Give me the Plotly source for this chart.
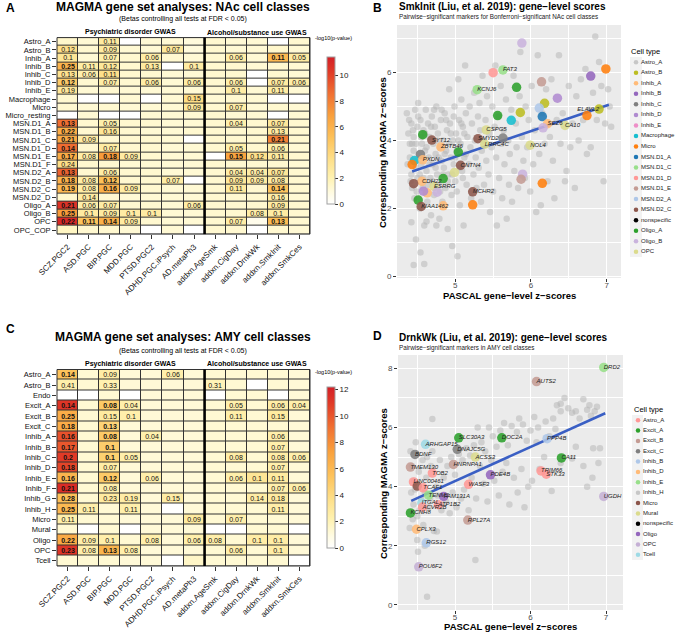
import math
import plotly.graph_objects as go

W, H = 675, 632
FONT = "Liberation Sans, Arial, sans-serif"


def px(x):
    return x / W


def py(y):
    return 1 - y / H


# ---------------- heatmap data ----------------
gwas = ["SCZ.PGC2", "ASD.PGC", "BIP.PGC", "MDD.PGC", "PTSD.PGC2", "ADHD.PGC.iPsych",
        "AD.metaPh3", "addxn.AgeSmk", "addxn.CigDay", "addxn.DrnkWk", "addxn.SmkInit", "addxn.SmkCes"]

nac_rows = ["Astro_A", "Astro_B", "Inhib_A", "Inhib_B", "Inhib_C", "Inhib_D", "Inhib_E",
            "Macrophage", "Micro", "Micro_resting", "MSN.D1_A", "MSN.D1_B", "MSN.D1_C",
            "MSN.D1_D", "MSN.D1_E", "MSN.D1_F", "MSN.D2_A", "MSN.D2_B", "MSN.D2_C",
            "MSN.D2_D", "Oligo_A", "Oligo_B", "OPC", "OPC_COP"]

# -log10(p-value)
nac_logp = [
    [1.4, 1.2, 2.6, 0, 1.2, 1.2, 1.0, 1.3, 1.2, 1.2, 0, 1.3],
    [3.4, 1.3, 2.6, 1.2, 1.2, 2.8, 1.0, 1.3, 1.2, 1.2, 1.4, 1.2],
    [3.0, 1.2, 2.3, 1.3, 2.4, 1.3, 1.2, 1.3, 2.4, 1.2, 5.6, 2.6],
    [5.8, 2.4, 2.8, 1.3, 2.6, 0, 2.5, 1.3, 1.3, 1.2, 1.3, 1.2],
    [3.2, 2.2, 3.4, 1.3, 1.3, 1.2, 1.2, 1.3, 1.3, 0, 1.3, 1.2],
    [4.6, 1.3, 2.4, 1.3, 2.4, 1.2, 2.4, 1.3, 2.3, 0, 2.6, 2.4],
    [2.9, 1.2, 1.3, 1.2, 1.2, 1.2, 1.2, 1.3, 2.4, 1.2, 2.5, 1.2],
    [1.3, 0, 0, 1.2, 0, 1.2, 3.6, 1.2, 1.3, 1.2, 0, 0],
    [1.3, 1.2, 1.3, 1.2, 1.2, 1.2, 2.8, 1.3, 2.4, 1.2, 1.3, 1.2],
    [0, 1.2, 0, 0, 1.2, 1.2, 1.2, 1.3, 1.2, 1.2, 0, 1.2],
    [8.6, 1.3, 2.2, 1.3, 1.3, 1.2, 1.2, 1.3, 2.2, 1.3, 2.8, 1.3],
    [6.2, 1.3, 3.0, 1.3, 1.2, 1.2, 1.3, 1.3, 1.3, 1.3, 2.6, 1.3],
    [6.3, 2.5, 1.3, 1.3, 1.3, 1.2, 0, 1.3, 1.3, 1.3, 8.0, 1.3],
    [8.7, 1.3, 2.5, 1.3, 1.3, 1.2, 1.2, 1.3, 2.3, 1.3, 2.3, 1.2],
    [6.2, 2.4, 7.0, 2.5, 1.3, 1.2, 1.2, 0, 6.6, 3.4, 2.6, 1.3],
    [3.5, 1.3, 1.3, 1.2, 1.2, 1.2, 1.2, 1.3, 1.3, 1.3, 1.3, 1.2],
    [9.0, 1.3, 2.4, 1.3, 1.3, 1.2, 1.2, 1.3, 2.4, 2.4, 2.9, 1.3],
    [6.0, 2.4, 5.2, 1.3, 1.3, 2.4, 0, 1.3, 2.9, 2.6, 2.6, 1.3],
    [5.6, 2.4, 6.0, 2.5, 1.3, 1.2, 1.2, 1.3, 2.7, 1.3, 5.0, 1.3],
    [1.4, 2.6, 1.3, 1.2, 1.2, 1.2, 1.2, 1.3, 1.3, 1.3, 2.4, 1.2],
    [10.6, 2.3, 2.4, 1.3, 1.3, 1.2, 2.4, 1.3, 1.3, 1.3, 2.6, 1.3],
    [7.0, 2.6, 2.6, 2.5, 2.5, 1.2, 1.2, 1.3, 1.3, 2.4, 2.5, 1.3],
    [11.0, 5.0, 6.0, 2.6, 1.3, 1.2, 1.2, 1.3, 2.4, 0.6, 5.4, 1.3],
    [1.6, 1.3, 1.3, 1.2, 0, 1.2, 0, 1.3, 1.3, 0, 1.3, 1.2],
]

N = None
nac_beta = [
    [N, N, 0.11, N, N, N, N, N, N, N, N, N],
    [0.12, N, 0.09, N, N, 0.07, N, N, N, N, N, N],
    [0.1, N, 0.07, N, 0.06, N, N, N, 0.06, N, 0.11, 0.05],
    [0.25, 0.11, 0.12, N, 0.13, N, 0.1, N, N, N, N, N],
    [0.13, 0.06, 0.11, N, N, N, N, N, N, N, N, N],
    [0.12, N, 0.07, N, 0.06, N, 0.06, N, 0.06, N, 0.07, 0.06],
    [0.19, N, N, N, N, N, N, N, 0.1, N, 0.11, N],
    [N, N, N, N, N, N, 0.15, N, N, N, N, N],
    [N, N, N, N, N, N, 0.09, N, 0.07, N, N, N],
    [N, N, N, N, N, N, N, N, N, N, N, N],
    [0.13, N, 0.05, N, N, N, N, N, 0.04, N, 0.07, N],
    [0.22, N, 0.16, N, N, N, N, N, N, N, 0.13, N],
    [0.21, 0.09, N, N, N, N, N, N, N, N, 0.21, N],
    [0.14, N, 0.07, N, N, N, N, N, 0.05, N, 0.06, N],
    [0.17, 0.08, 0.18, 0.09, N, N, N, N, 0.15, 0.12, 0.11, N],
    [0.24, N, N, N, N, N, N, N, N, N, N, N],
    [0.13, N, 0.06, N, N, N, N, N, 0.04, 0.04, 0.07, N],
    [0.18, 0.08, 0.12, N, N, 0.07, N, N, 0.09, 0.09, 0.08, N],
    [0.19, 0.08, 0.16, 0.09, N, N, N, N, 0.11, N, 0.14, N],
    [N, 0.14, N, N, N, N, N, N, N, N, 0.16, N],
    [0.21, 0.06, 0.07, N, N, N, 0.06, N, N, N, 0.09, N],
    [0.25, 0.1, 0.09, 0.1, 0.1, N, N, N, N, 0.08, 0.1, N],
    [0.22, 0.11, 0.14, 0.09, N, N, N, N, 0.07, N, 0.13, N],
    [N, N, N, N, N, N, N, N, N, N, N, N],
]

amy_rows = ["Astro_A", "Astro_B", "Endo", "Excit_A", "Excit_B", "Excit_C", "Inhib_A",
            "Inhib_B", "Inhib_C", "Inhib_D", "Inhib_E", "Inhib_F", "Inhib_G", "Inhib_H",
            "Micro", "Mural", "Oligo", "OPC", "Tcell"]

amy_logp = [
    [5.4, 1.3, 2.6, 1.2, 1.2, 2.4, 1.2, 1.3, 1.3, 1.3, 1.3, 1.2],
    [2.4, 1.3, 2.2, 1.2, 1.2, 1.2, 1.2, 2.0, 1.3, 0, 1.3, 1.2],
    [0, 0, 1.3, 0, 1.2, 1.2, 1.2, 0, 1.3, 1.3, 0, 1.2],
    [11.2, 1.3, 5.0, 2.4, 1.2, 1.2, 1.2, 1.3, 2.4, 1.3, 2.6, 2.4],
    [6.6, 1.3, 2.8, 2.4, 1.2, 1.2, 1.2, 1.3, 2.5, 1.3, 2.8, 1.2],
    [6.6, 1.3, 4.4, 1.2, 1.2, 1.2, 1.2, 1.3, 1.3, 1.3, 1.3, 1.2],
    [10.2, 1.3, 5.0, 1.2, 2.3, 1.2, 1.2, 1.3, 1.3, 1.3, 2.4, 1.2],
    [10.0, 1.3, 4.8, 1.2, 1.2, 1.2, 1.2, 1.3, 1.3, 1.3, 2.4, 1.2],
    [11.0, 1.3, 4.6, 2.4, 1.2, 1.2, 1.2, 1.3, 2.6, 1.3, 2.6, 2.4],
    [10.6, 1.3, 2.6, 1.2, 1.2, 1.2, 1.2, 1.3, 1.3, 1.3, 2.4, 1.2],
    [6.2, 1.3, 5.0, 1.2, 2.4, 1.2, 1.2, 1.3, 2.4, 3.2, 2.8, 1.2],
    [11.6, 1.3, 2.4, 1.2, 1.2, 1.2, 1.2, 1.3, 1.3, 1.3, 2.4, 2.4],
    [5.6, 1.3, 2.8, 2.6, 1.2, 2.6, 1.2, 1.3, 1.3, 2.6, 2.8, 1.2],
    [6.0, 2.4, 1.3, 2.4, 1.2, 0, 1.2, 1.3, 1.3, 1.3, 2.5, 1.2],
    [2.4, 1.3, 1.3, 1.2, 1.2, 1.2, 2.8, 1.3, 2.4, 1.3, 1.3, 1.2],
    [1.3, 0, 1.3, 0, 1.2, 1.2, 1.2, 0, 0, 1.3, 1.3, 0],
    [6.8, 2.4, 2.4, 1.3, 2.4, 1.2, 2.4, 2.4, 1.3, 2.6, 2.6, 1.2],
    [11.2, 2.4, 6.2, 2.4, 1.2, 1.2, 1.2, 1.3, 2.4, 1.3, 2.6, 1.2],
    [1.3, 1.3, 1.3, 1.2, 1.2, 0, 1.6, 1.3, 1.3, 1.3, 1.3, 0],
]

amy_beta = [
    [0.14, N, 0.09, N, N, 0.06, N, N, N, N, N, N],
    [0.41, N, 0.33, N, N, N, N, 0.31, N, N, N, N],
    [N, N, N, N, N, N, N, N, N, N, N, N],
    [0.14, N, 0.08, 0.04, N, N, N, N, 0.05, N, 0.06, 0.04],
    [0.25, N, 0.15, 0.1, N, N, N, N, 0.11, N, 0.15, N],
    [0.18, N, 0.13, N, N, N, N, N, N, N, N, N],
    [0.16, N, 0.08, N, 0.04, N, N, N, N, N, 0.06, N],
    [0.17, N, 0.1, N, N, N, N, N, N, N, 0.07, N],
    [0.2, N, 0.1, 0.05, N, N, N, N, 0.08, N, 0.08, 0.06],
    [0.18, N, 0.07, N, N, N, N, N, N, N, 0.07, N],
    [0.16, N, 0.12, N, 0.06, N, N, N, 0.06, 0.1, 0.11, N],
    [0.21, N, 0.08, N, N, N, N, N, N, N, 0.07, 0.06],
    [0.28, N, 0.23, 0.19, N, 0.15, N, N, N, 0.14, 0.18, N],
    [0.25, 0.11, N, 0.11, N, N, N, N, N, N, 0.11, N],
    [0.11, N, N, N, N, N, 0.09, N, 0.07, N, N, N],
    [N, N, N, N, N, N, N, N, N, N, N, N],
    [0.22, 0.09, 0.1, N, 0.08, N, 0.06, 0.08, N, 0.1, 0.1, N],
    [0.23, 0.08, 0.13, 0.08, N, N, N, N, 0.06, N, 0.1, N],
    [N, N, N, N, N, N, N, N, N, N, N, N],
]

# ---------------- scatter data ----------------
# panel B (SmkInit, NAc): background genes
gray_b_x = [4.36, 4.38, 4.40, 4.40, 4.42, 4.42, 4.43, 4.45, 4.45, 4.46, 4.47, 4.48, 4.48, 4.50,
            4.50, 4.51, 4.52, 4.53, 4.54, 4.55, 4.56, 4.57, 4.58, 4.59, 4.60, 4.61, 4.62, 4.63,
            4.64, 4.65, 4.66, 4.67, 4.68, 4.69, 4.70, 4.71, 4.72, 4.73, 4.74, 4.75, 4.76, 4.77,
            4.78, 4.79, 4.80, 4.81, 4.82, 4.83, 4.84, 4.85, 4.86, 4.87, 4.88, 4.89, 4.90, 4.91,
            4.92, 4.93, 4.94, 4.95, 4.96, 4.97, 4.98, 4.99, 5.00, 5.01, 5.02, 5.03, 5.04, 5.05,
            5.06, 5.07, 5.08, 5.09, 5.10, 5.11, 5.12, 5.13, 5.14, 5.15, 5.16, 5.18, 5.19, 5.20,
            5.21, 5.22, 5.24, 5.25, 5.26, 5.27, 5.28, 5.30, 5.31, 5.32, 5.33, 5.34, 5.35, 5.36,
            5.37, 5.38, 5.40, 5.41, 5.42, 5.44, 5.45, 5.46, 5.48, 5.49, 5.50, 5.52, 5.53, 5.54,
            5.55, 5.57, 5.58, 5.60, 5.61, 5.62, 5.64, 5.65, 5.67, 5.68, 5.70, 5.71, 5.72, 5.74,
            5.75, 5.77, 5.78, 5.80, 5.81, 5.83, 5.85, 5.86, 5.88, 5.90, 5.92, 5.93, 5.95, 5.97,
            5.99, 6.01, 6.03, 6.05, 6.07, 6.09, 6.11, 6.13, 6.15, 6.18, 6.20, 6.22, 6.25, 6.27,
            6.29, 6.31, 6.34, 6.37, 6.39, 6.42, 6.45, 6.47, 6.50, 6.52, 6.55, 6.58, 6.60, 6.63,
            6.66, 6.69, 6.72, 6.74, 6.77, 6.79, 6.82, 6.85, 6.87, 6.90, 6.93, 6.96, 6.98, 7.02,
            7.04, 7.06, 4.45, 4.59, 4.54, 4.48, 4.75, 4.62, 4.42,
            4.37, 4.39, 4.41, 4.43, 4.44, 4.46, 4.49, 4.51, 4.53, 4.55, 4.57, 4.58, 4.60, 4.62,
            4.64, 4.66, 4.68, 4.70, 4.72, 4.74, 4.76, 4.78, 4.80, 4.82, 4.84, 4.86, 4.88, 4.90,
            4.92, 4.94, 4.96, 4.98, 5.00, 5.02, 5.04, 5.06, 5.08, 5.10, 5.12, 5.14]
gray_b_y = [4.8, 4.2, 3.9, 3.5, 4.5, 3.0, 2.6, 3.7, 4.1, 2.3, 4.9, 3.2, 3.9, 4.4,
            2.9, 5.1, 3.6, 2.0, 4.6, 3.3, 3.9, 2.6, 4.3, 1.5, 3.7, 4.9, 3.1, 2.2,
            4.5, 3.5, 4.1, 2.9, 1.8, 4.7, 3.3, 3.9, 2.4, 4.4, 3.6, 5.0, 3.0, 4.2,
            2.7, 1.7, 3.8, 4.6, 3.4, 2.2, 4.0, 3.2, 4.8, 2.6, 3.7, 4.3, 1.4, 3.0,
            5.5, 4.5, 3.5, 2.4, 0.9, 4.0, 3.3, 5.0, 2.8, 4.2, 3.7, 0.6, 5.8, 4.6,
            2.1, 3.9, 5.2, 3.1, 4.4, 1.5, 3.5, 6.2, 4.8, 2.7, 4.1, 3.3, 5.0, 3.8,
            2.3, 4.5, 3.0, 5.4, 4.0, 3.5, 2.6, 4.7, 3.2, 5.1, 4.3, 2.2, 3.7, 5.9,
            4.0, 2.7, 4.6, 3.4, 5.3, 3.0, 4.2, 1.9, 3.8, 5.0, 2.5, 4.4, 6.2, 3.5,
            1.5, 4.7, 2.9, 5.6, 3.9, 2.3, 4.3, 3.3, 5.2, 1.7, 4.0, 2.7, 3.6, 4.9,
            2.2, 5.9, 3.1, 4.5, 3.8, 2.6, 5.3, 6.6, 4.1, 3.4, 2.9, 5.0, 3.8, 4.6,
            2.5, 5.6, 3.3, 4.3, 1.9, 6.5, 3.6, 2.1, 4.8, 3.9, 5.5, 2.8, 4.1, 5.8,
            3.4, 2.3, 4.6, 6.5, 3.9, 4.8, 2.8, 3.1, 5.6, 3.8, 4.5, 2.6, 5.3, 4.0,
            5.8, 4.6, 6.1, 3.6, 4.9, 3.8, 5.4, 7.05, 4.6, 6.3, 5.6, 2.8, 4.5, 5.5,
            5.0, 4.4, 0.34, 0.37, 0.71, 1.09, 1.50, 1.62, 1.6,
            3.3, 4.6, 2.8, 3.9, 4.3, 3.4, 2.5, 4.7, 3.0, 4.1, 3.5, 2.9, 4.2, 3.8,
            2.7, 3.3, 4.4, 2.8, 4.9, 3.2, 4.0, 3.5, 2.5, 4.9, 3.0, 3.6, 4.6, 2.8,
            3.9, 4.2, 3.0, 4.7, 3.5, 2.5, 4.0, 3.2, 4.5, 2.9, 4.2, 3.6]

# panel B highlighted markers: cell type, PASCAL z, MAGMA z, gene label
b_type = ["Oligo_B", "MSN.D1_D", "MSN.D1_C", "Micro", "Inhib_B", "MSN.D1_E", "Oligo_A",
          "MSN.D1_C", "Inhib_D", "Astro_B", "MSN.D2_A", "Astro_B", "Astro_B", "Oligo_A",
          "MSN.D1_A", "Micro", "Macrophage", "Inhib_A", "Oligo_B", "OPC", "OPC", "Oligo_A",
          "MSN.D2_C", "MSN.D2_C", "Inhib_C", "Inhib_A", "OPC", "OPC", "Oligo_A", "Inhib_C",
          "Macrophage", "Inhib_A", "Micro", "MSN.D2_C", "OPC", "Oligo_B", "Oligo_A",
          "MSN.D1_E", "Inhib_A", "MSN.D2_C", "OPC", "Inhib_A", "Inhib_D", "Oligo_B",
          "MSN.D2_C", "Micro", "Oligo_A", "MSN.D2_C", "Inhib_A", "Micro"]
b_x = [5.88, 5.50, 5.63, 6.99, 6.79, 6.14, 5.81, 5.29, 6.35, 6.18, 6.11, 6.90, 5.86, 5.56,
       6.15, 6.74, 5.74, 6.22, 6.16, 6.45, 5.41, 4.57, 4.69, 5.30, 5.63, 4.81, 5.99, 5.39,
       5.04, 4.54, 4.46, 4.57, 4.43, 5.07, 4.99, 5.89, 4.84, 5.87, 4.56, 4.45, 4.72, 4.63,
       4.58, 4.76, 5.23, 6.15, 4.51, 4.55, 4.84, 5.23]
b_y = [6.86, 5.99, 6.07, 6.10, 5.89, 5.72, 5.56, 5.49, 5.24, 5.09, 4.95, 4.92, 4.82, 4.73,
       4.70, 4.73, 4.59, 4.49, 4.37, 4.44, 4.31, 4.17, 4.01, 4.05, 4.07, 3.81, 3.86, 3.89,
       3.66, 3.59, 3.41, 3.43, 3.29, 3.27, 3.06, 3.01, 2.88, 2.86, 2.80, 2.73, 2.65, 2.46,
       2.51, 2.48, 2.49, 2.74, 2.25, 2.06, 2.08, 2.11]
b_gene = ["", "", "FAT3", "", "", "", "", "KCNJ6", "", "", "", "ELAVL2", "", "", "", "", "",
          "SEZ6", "", "CA10", "CSPG5", "", "SYT12", "SMYD2", "", "ZBTB46", "NOL4", "LRRC4C",
          "", "", "", "PXDN", "", "CNTN4", "", "", "", "", "CDH22", "", "ESRRG", "", "", "",
          "MCHR2", "", "", "KIAA1462", "", ""]
b_fit_x = [4.43, 7.03]
b_fit_y = [3.09, 5.05]

b_legend = ["Astro_A", "Astro_B", "Inhib_A", "Inhib_B", "Inhib_C", "Inhib_D", "Inhib_E",
            "Macrophage", "Micro", "MSN.D1_A", "MSN.D1_C", "MSN.D1_D", "MSN.D1_E", "MSN.D2_A",
            "MSN.D2_C", "nonspecific", "Oligo_A", "Oligo_B", "OPC"]

# panel D (DrnkWk, AMY): background genes
gray_d_x = [6.35, 6.40, 6.45, 6.50, 6.55, 6.60, 6.65, 6.70, 6.75, 6.78, 6.80, 6.85, 6.88, 6.92,
            6.60, 6.40, 6.30, 6.20, 6.33, 6.25, 6.10, 6.05, 6.00, 6.08, 5.95, 5.90, 5.85, 5.82,
            5.75, 5.70, 5.65, 5.60, 5.55, 5.50, 5.45, 5.40, 5.35, 5.30, 5.25, 5.20, 5.15, 5.10,
            5.05, 5.00, 4.95, 4.90, 4.85, 4.80, 4.75, 4.70, 4.68, 4.65, 4.62, 4.60, 4.57, 4.55,
            4.52, 4.50, 4.48, 4.46, 4.45, 4.44, 4.43, 4.42, 4.41, 4.40, 4.47, 4.53, 4.58, 4.63,
            4.67, 4.72, 4.77, 4.82, 4.88, 4.93, 4.97, 5.02, 5.08, 5.12, 5.18, 5.22, 5.28, 5.33,
            5.38, 5.43, 5.48, 5.52, 5.58, 5.63, 5.68, 5.72, 5.78, 5.83, 5.88, 5.92, 5.97, 6.02,
            6.12, 6.18, 6.28, 6.40, 6.55, 6.70, 6.75, 6.82, 6.90, 6.83, 4.63, 4.51, 5.27, 4.70,
            4.76, 4.50, 4.60]
gray_d_y = [6.75, 6.80, 7.00, 6.65, 6.50, 6.55, 6.30, 6.95, 6.60, 6.75, 6.40, 6.55, 6.70, 5.30,
            5.35, 6.55, 6.30, 6.20, 5.95, 5.70, 6.00, 6.35, 5.90, 5.50, 5.55, 6.10, 6.30, 5.85,
            6.05, 5.40, 6.15, 5.90, 5.35, 5.70, 6.00, 5.20, 5.50, 6.00, 5.40, 5.05, 5.30, 4.90,
            5.10, 4.40, 5.00, 4.70, 4.30, 4.90, 4.00, 5.20, 4.70, 3.30, 4.30, 3.80, 4.90, 3.60,
            4.50, 3.00, 5.50, 4.20, 3.40, 2.90, 4.70, 3.80, 5.20, 2.60, 3.90, 3.20, 2.70, 5.00,
            3.60, 2.50, 3.70, 3.20, 3.50, 3.10, 3.80, 3.30, 3.60, 3.90, 3.20, 4.30, 3.60, 4.70,
            4.10, 3.50, 4.90, 4.20, 3.70, 4.50, 4.80, 3.40, 4.30, 3.80, 4.60, 3.30, 4.00, 4.20,
            4.60, 5.00, 3.85, 4.80, 4.95, 4.70, 4.00, 4.30, 4.80, 5.30, 0.28, 1.80, 1.52, 6.29,
            2.48, 2.20, 2.00]

d_type = ["Inhib_E", "Excit_B", "Inhib_B", "Excit_A", "Excit_A", "Tcell", "Excit_C", "Excit_C",
          "Mural", "Excit_A", "Excit_B", "Excit_B", "Astro_A", "Astro_A", "Astro_A", "Oligo",
          "Astro_A", "Astro_A", "Micro", "Astro_A", "Inhib_E", "Oligo", "OPC", "Tcell",
          "Astro_A", "Astro_A", "Excit_A", "Excit_B", "Inhib_D", "Inhib_B", "OPC"]
d_x = [6.97, 6.08, 6.22, 5.05, 5.62, 4.61, 5.03, 4.47, 5.27, 6.41, 4.98, 4.41, 4.70, 6.14,
       6.21, 5.47, 4.45, 5.18, 4.50, 4.58, 4.65, 4.85, 6.97, 4.56, 4.78, 4.57, 4.41, 5.17,
       4.49, 4.62, 4.52]
d_y = [8.03, 7.55, 5.62, 5.65, 5.65, 5.43, 5.26, 5.09, 5.00, 4.97, 4.75, 4.66, 4.46, 4.53,
       4.42, 4.40, 4.16, 4.08, 4.02, 3.96, 3.71, 3.67, 3.67, 3.45, 3.39, 3.31, 3.11, 2.87,
       2.56, 2.10, 1.29]
d_gene = ["DRD2", "AUTS2", "PPP4B", "SLC30A3", "DOC2A", "ARHGAP15", "DNAJC5G", "BDNF", "ACSS3",
          "CA11", "HNRNPA1", "TMEM130", "TOB2", "TRIM66", "STK33", "PDE4B", "LINC00461",
          "WASF3", "", "TCAF1", "TENM2", "FAM131A", "UGDH", "ITGAL", "ATP1B2", "ACVR2B",
          "KCNH8", "RPL27A", "CPLX3", "RGS12", "POU6F2"]
d_fit_x = [4.42, 6.99]
d_fit_y = [3.52, 6.48]

d_legend = ["Astro_A", "Excit_A", "Excit_B", "Excit_C", "Inhib_B", "Inhib_D", "Inhib_E",
            "Inhib_H", "Micro", "Mural", "nonspecific", "Oligo", "OPC", "Tcell"]

# ---------------- styles ----------------
b_colors = {"Astro_A": "#C7C7C7", "Astro_B": "#BCBD22", "Inhib_A": "#FFBB78",
            "Inhib_B": "#9467BD", "Inhib_C": "#7F7F7F", "Inhib_D": "#B08BD0",
            "Inhib_E": "#EE8FC8", "Macrophage": "#17BECF", "Micro": "#FF7F0E",
            "MSN.D1_A": "#1F77B4", "MSN.D1_C": "#98DF8A", "MSN.D1_D": "#FF9896",
            "MSN.D1_E": "#C49C94", "MSN.D2_A": "#AEC7E8", "MSN.D2_C": "#8C564B",
            "nonspecific": "#000000", "Oligo_A": "#2CA02C", "Oligo_B": "#C9B3DD",
            "OPC": "#DBDB8D"}
d_colors = {"Astro_A": "#FF9896", "Excit_A": "#2CA02C", "Excit_B": "#C49C94",
            "Excit_C": "#7F7F7F", "Inhib_B": "#AEC7E8", "Inhib_D": "#FFBB78",
            "Inhib_E": "#98DF8A", "Inhib_H": "#C7C7C7", "Micro": "#8C564B",
            "Mural": "#DBDB8D", "nonspecific": "#000000", "Oligo": "#9467BD",
            "OPC": "#C5B0D5", "Tcell": "#9EDAE5"}
left_labels = {"ELAVL2"}

heat_scale = [[0, "#FFFFFF"], [0.08, "#FFFBE0"], [0.18, "#FFF2B0"], [0.3, "#FEE08A"],
              [0.45, "#FDC25A"], [0.6, "#F9A03C"], [0.75, "#F07032"], [0.9, "#E03A27"],
              [1.0, "#D41F26"]]

fig = go.Figure()


def cell_text(logp, beta, thr):
    out = []
    for lr, br in zip(logp, beta):
        row = []
        for v, b in zip(lr, br):
            if b is None:
                row.append("")
            elif v >= thr:
                row.append(f"<b>{b}</b>")
            else:
                row.append(f"{b}")
        out.append(row)
    return out


def add_heat(logp, beta, rows, xa, ya, zmax, bar_top, bar_bot, dticks):
    # bold = Bonferroni-significant
    thr = -math.log10(0.05 / (len(rows) * len(gwas)))
    fig.add_trace(go.Heatmap(
        z=logp, x=gwas, y=rows, xaxis=xa, yaxis=ya,
        colorscale=heat_scale, zmin=0, zmax=zmax, xgap=1, ygap=1,
        text=cell_text(logp, beta, thr), texttemplate="%{text}",
        textfont=dict(size=7, color="#111111", family=FONT),
        hoverinfo="skip",
        colorbar=dict(x=px(316.5), xanchor="left", y=py((bar_top + bar_bot) / 2),
                      yanchor="middle", lenmode="pixels", len=bar_bot - bar_top,
                      thickness=8, outlinewidth=1, outlinecolor="#A0A0A0",
                      tickvals=dticks, ticks="outside", ticklen=3, tickcolor="#333",
                      tickfont=dict(size=8, color="#222", family=FONT)),
    ))


add_heat(nac_logp, nac_beta, nac_rows, "x", "y", 11.42, 47, 214, [0, 2, 4, 6, 8, 10])
add_heat(amy_logp, amy_beta, amy_rows, "x3", "y3", 12.2, 377, 558, [0, 2, 4, 6, 8, 10, 12])


def add_scatter(gx, gy, typ, xs, ys, genes, fx, fy, colors, xa, ya):
    fig.add_trace(go.Scatter(x=gx, y=gy, mode="markers", xaxis=xa, yaxis=ya,
                             marker=dict(size=6.5, color="#B4B4B4", opacity=0.5),
                             hoverinfo="skip"))
    fig.add_trace(go.Scatter(x=fx, y=fy, mode="lines", xaxis=xa, yaxis=ya,
                             line=dict(color="#3A5FC4", width=2.6), hoverinfo="skip"))
    fig.add_trace(go.Scatter(x=xs, y=ys, mode="markers", xaxis=xa, yaxis=ya,
                             marker=dict(size=9.5, color=[colors[t] for t in typ], opacity=0.88),
                             hovertext=typ))
    lx = [x for x, g in zip(xs, genes) if g]
    ly = [y for y, g in zip(ys, genes) if g]
    lt = [f"<i>{g}</i>" for g in genes if g]
    lp = ["middle left" if g in left_labels else "middle right" for g in genes if g]
    fig.add_trace(go.Scatter(x=lx, y=ly, mode="text", text=lt, textposition=lp,
                             xaxis=xa, yaxis=ya, cliponaxis=False,
                             textfont=dict(size=6, color="#222", family=FONT),
                             hoverinfo="skip"))


add_scatter(gray_b_x, gray_b_y, b_type, b_x, b_y, b_gene, b_fit_x, b_fit_y, b_colors, "x2", "y2")
add_scatter(gray_d_x, gray_d_y, d_type, d_x, d_y, d_gene, d_fit_x, d_fit_y, d_colors, "x4", "y4")


def add_legend(types, colors, xa, ya):
    fig.add_trace(go.Scatter(x=[6] * len(types), y=types, mode="markers", xaxis=xa, yaxis=ya,
                             marker=dict(size=4.5, color=[colors[t] for t in types]),
                             hoverinfo="skip"))
    fig.add_trace(go.Scatter(x=[11] * len(types), y=types, mode="text", text=types,
                             textposition="middle right", xaxis=xa, yaxis=ya, cliponaxis=False,
                             textfont=dict(size=6, color="#1a1a1a", family=FONT),
                             hoverinfo="skip"))


add_legend(b_legend, b_colors, "x5", "y5")
add_legend(d_legend, d_colors, "x6", "y6")

# ---------------- axes ----------------
heat_x = dict(type="category", tickangle=-45, ticks="outside", ticklen=4, tickcolor="#333",
              tickmode="array", tickvals=gwas, automargin=False,
              tickfont=dict(size=8, color="#111", family=FONT), showgrid=False,
              zeroline=False, showline=False, fixedrange=True)
heat_y = dict(type="category", autorange="reversed", ticks="outside", ticklen=4,
              tickcolor="#333", tickfont=dict(size=7.5, color="#111", family=FONT),
              automargin=False, showgrid=False, zeroline=False, showline=False, fixedrange=True)

sc_common = dict(ticks="outside", ticklen=3, tickcolor="#333", showline=False, zeroline=False,
                 showgrid=True, gridcolor="white", gridwidth=1.3, automargin=False,
                 tickfont=dict(size=8, color="#4D4D4D", family=FONT))


def minor(vals):
    return dict(tickvals=vals, showgrid=True, gridcolor="white", gridwidth=0.6, ticks="")


fig.update_layout(
    xaxis=dict(heat_x, domain=[px(57), px(310)], anchor="y"),
    yaxis=dict(heat_y, domain=[py(234.1), py(37.6)], anchor="x",
               tickmode="array", tickvals=nac_rows),
    xaxis3=dict(heat_x, domain=[px(57), px(310)], anchor="y3"),
    yaxis3=dict(heat_y, domain=[py(566), py(369.5)], anchor="x3",
                tickmode="array", tickvals=amy_rows),
    xaxis2=dict(sc_common, domain=[px(397), px(621)], anchor="y2", range=[4.23, 7.19],
                tickvals=[5, 6, 7], minor=minor([4.5, 5.5, 6.5]), ticklabelstandoff=-4),
    yaxis2=dict(sc_common, domain=[py(278), py(25)], anchor="x2", range=[-0.04, 7.39],
                tickvals=[0, 2, 4, 6], minor=minor([1, 3, 5, 7])),
    xaxis4=dict(sc_common, domain=[px(398), px(623)], anchor="y4", range=[4.245, 7.225],
                tickvals=[5, 6, 7], minor=minor([4.5, 5.5, 6.5]), ticklabelstandoff=-4),
    yaxis4=dict(sc_common, domain=[py(610), py(355)], anchor="x4", range=[-0.17, 8.45],
                tickvals=[0, 2, 4, 6, 8], minor=minor([1, 3, 5, 7])),
    xaxis5=dict(domain=[px(630), 1], range=[0, 45], visible=False, anchor="y5",
                automargin=False),
    yaxis5=dict(domain=[py(257), py(57)], type="category", range=[len(b_legend) - 0.5, -0.5],
                visible=False, anchor="x5", automargin=False),
    xaxis6=dict(domain=[px(632), 1], range=[0, 43], visible=False, anchor="y6",
                automargin=False),
    yaxis6=dict(domain=[py(560), py(415)], type="category", range=[len(d_legend) - 0.5, -0.5],
                visible=False, anchor="x6", automargin=False),
)

shapes = []
for xa, ya in [("x", "y"), ("x3", "y3")]:
    shapes.append(dict(type="rect", xref=f"{xa} domain", yref=f"{ya} domain", x0=0, x1=1,
                       y0=0, y1=1, fillcolor="#333333", line=dict(width=0), layer="below"))
    shapes.append(dict(type="rect", xref=f"{xa} domain", yref=f"{ya} domain", x0=0, x1=1,
                       y0=0, y1=1, line=dict(width=1, color="#333333"), layer="above"))
    shapes.append(dict(type="line", xref=xa, yref=f"{ya} domain", x0=6.5, x1=6.5, y0=0, y1=1,
                       line=dict(width=2.6, color="black"), layer="above"))
for xa, ya in [("x2", "y2"), ("x4", "y4")]:
    shapes.append(dict(type="rect", xref=f"{xa} domain", yref=f"{ya} domain", x0=0, x1=1,
                       y0=0, y1=1, fillcolor="#EBEBEB", line=dict(width=0), layer="below"))
shapes.append(dict(type="rect", xref="x5", yref="y5 domain", x0=0, x1=12, y0=0, y1=1,
                   fillcolor="#F2F2F2", line=dict(width=0), layer="below"))
shapes.append(dict(type="rect", xref="x6", yref="y6 domain", x0=0, x1=11, y0=0, y1=1,
                   fillcolor="#F2F2F2", line=dict(width=0), layer="below"))


def ann(text, x, y, size, bold=False, xanchor="center", angle=0, color="#000"):
    t = f"<b>{text}</b>" if bold else text
    return dict(text=t, x=px(x), y=py(y), xref="paper", yref="paper", showarrow=False,
                xanchor=xanchor, yanchor="middle", textangle=angle,
                font=dict(size=size, color=color, family=FONT))


anns = [
    ann("A", 10, 8, 12, bold=True),
    ann("MAGMA gene set analyses: NAc cell classes", 183, 7, 12, bold=True),
    ann("(Betas controlling all tests at FDR < 0.05)", 183, 18.5, 7),
    ann("Psychiatric disorder GWAS", 130, 32, 7, bold=True),
    ann("Alcohol/substance use GWAS", 257, 32, 7, bold=True),
    ann("-log10(p-value)", 313, 38.5, 5.5, xanchor="left"),
    ann("C", 10, 329, 12, bold=True),
    ann("MAGMA gene set analyses: AMY cell classes", 183, 337, 12, bold=True),
    ann("(Betas controlling all tests at FDR < 0.05)", 183, 350.5, 7),
    ann("Psychiatric disorder GWAS", 130, 363.5, 7, bold=True),
    ann("Alcohol/substance use GWAS", 257, 363.5, 7, bold=True),
    ann("-log10(p-value)", 313, 371.5, 5.5, xanchor="left"),
    ann("B", 377, 8, 12, bold=True),
    ann("SmkInit (Liu, et al. 2019): gene\u2212level scores", 397, 6.5, 10, bold=True,
        xanchor="left"),
    ann("Pairwise\u2212significant markers for Bonferroni\u2212significant NAc cell classes",
        397, 17, 6.3, xanchor="left", color="#222"),
    ann("Corresponding MAGMA z\u2212scores", 383, 152, 9.5, bold=True, angle=-90),
    ann("PASCAL gene\u2212level z\u2212scores", 509, 295, 9.5, bold=True),
    ann("Cell type", 629, 51.5, 7.5, xanchor="left"),
    ann("D", 377, 336, 12, bold=True),
    ann("DrnkWk (Liu, et al. 2019): gene\u2212level scores", 397, 337, 10, bold=True,
        xanchor="left"),
    ann("Pairwise\u2212significant markers in AMY cell classes", 397, 348, 6.3,
        xanchor="left", color="#222"),
    ann("Corresponding MAGMA z\u2212scores", 383, 483, 9.5, bold=True, angle=-90),
    ann("PASCAL gene\u2212level z\u2212scores", 510, 626, 9.5, bold=True),
    ann("Cell type", 632, 409, 7.5, xanchor="left"),
]

fig.update_layout(
    width=W, height=H, margin=dict(l=0, r=0, t=0, b=0, autoexpand=False),
    paper_bgcolor="white", plot_bgcolor="white", showlegend=False,
    font=dict(family=FONT, color="#111"),
    shapes=shapes, annotations=anns,
)

# the page's default 8px body margin would push the fixed-size figure off the window
fig.write_html("out.html", config={"displayModeBar": False},
               post_script="document.body.style.margin='0';document.body.style.overflow='hidden';")
